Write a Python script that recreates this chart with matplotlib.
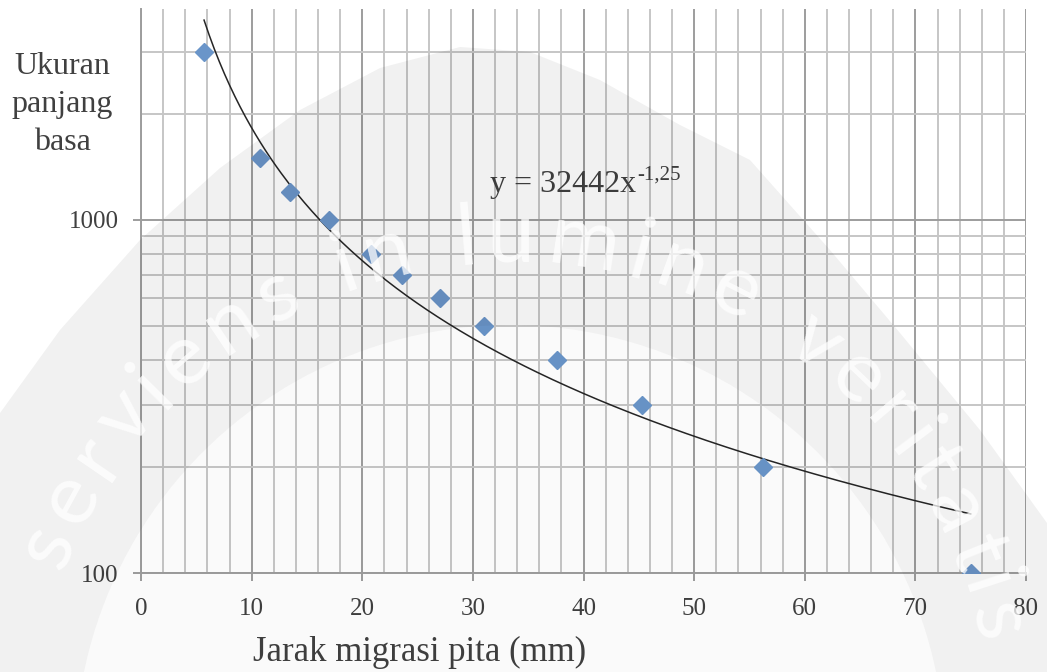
import numpy as np
import matplotlib
matplotlib.use('Agg')
import matplotlib.pyplot as plt
from matplotlib.ticker import MultipleLocator, LogLocator, FuncFormatter
from matplotlib.patches import PathPatch, Circle
from matplotlib.path import Path

plt.rcParams['font.family'] = ['Liberation Serif', 'DejaVu Serif']

# data: jarak migrasi pita (mm) vs ukuran panjang basa (bp)
jarak = [5.7, 10.8, 13.5, 17.0, 20.8, 23.6, 27.0, 31.0, 37.6, 45.3, 56.2, 75.0]
ukuran = [3000, 1500, 1200, 1000, 800, 700, 600, 500, 400, 300, 200, 100]

# trendline (power) y = a * x^b
koef_a = 32442
koef_b = -1.25

W, H = 1047, 672
fig = plt.figure(figsize=(W / 100, H / 100), dpi=100)
ax = fig.add_axes([141 / W, 1 - 573 / H, (1026 - 141) / W, (573 - 9) / H])
ax.set_facecolor('none')
ax.set_yscale('log')
ax.set_xlim(0, 80)
ax.set_ylim(100, 3960)

ax.xaxis.set_major_locator(MultipleLocator(10))
ax.xaxis.set_minor_locator(MultipleLocator(2))
ax.yaxis.set_major_locator(LogLocator(base=10))
ax.yaxis.set_minor_locator(LogLocator(base=10, subs=np.arange(2, 10)))
ax.yaxis.set_major_formatter(FuncFormatter(lambda v, p: f'{v:.0f}'))
ax.yaxis.set_minor_formatter(FuncFormatter(lambda v, p: ''))

ax.grid(which='major', color='#9d9d9d', lw=1.4)
ax.grid(which='minor', color='#c6c6c6', lw=1.4)
ax.set_axisbelow(True)

for s in ['top', 'right']:
    ax.spines[s].set_visible(False)
for s in ['left', 'bottom']:
    ax.spines[s].set_color('#9d9d9d')
    ax.spines[s].set_linewidth(1.4)

ax.tick_params(which='major', direction='out', length=6, width=1.4,
               color='#9d9d9d', labelcolor='#404040', labelsize=18)
ax.tick_params(axis='x', pad=12)
ax.tick_params(axis='y', pad=10)
ax.tick_params(which='minor', length=0)

# trendline
xs = np.linspace(min(jarak), max(jarak), 300)
ax.plot(xs, koef_a * xs ** koef_b, color='#262626', lw=1.1, zorder=3)

# titik data
ax.plot(jarak, ukuran, 'D', ms=9.5, color='#6a95c9', zorder=4)

# persamaan trendline
eq = ax.text((490 - 141) / 885, (573 - 192) / 564, 'y = 32442x',
             transform=ax.transAxes, fontsize=23, color='#404040',
             ha='left', va='baseline')
renderer = fig.canvas.get_renderer()
bb = eq.get_window_extent(renderer)
fig.text((bb.x1 + 1) / W, (H - 192 + 12) / H, '-1,25', fontsize=15,
         color='#404040', ha='left', va='baseline')

fig.text(62 / W, 1 - 52 / H, 'Ukuran\npanjang\nbasa', ha='center', va='top',
         fontsize=23, color='#404040', linespacing=1.42)
fig.text(420 / W, 1 - 661 / H, 'Jarak migrasi pita (mm)', ha='center',
         va='baseline', fontsize=25, color='#404040')

# watermark (logo samar di latar)
wm = fig.add_axes([0, 0, 1, 1], zorder=5)
wm.set_xlim(0, W)
wm.set_ylim(H, 0)
wm.axis('off')
wm.patch.set_alpha(0)

outer = np.array([(-20, 700), (-20, 440), (0, 413), (60, 330), (140, 240),
                  (220, 168), (300, 110), (380, 68), (460, 47), (530, 52),
                  (600, 80), (680, 125), (750, 160), (830, 250), (900, 333),
                  (980, 430), (1047, 523), (1070, 560), (1070, 700)])
t = np.linspace(0, 2 * np.pi, 200)
inner = np.column_stack([510 + 435 * np.cos(t), 760 + 435 * np.sin(t)])


def signed_area(p):
    return 0.5 * np.sum(p[:-1, 0] * p[1:, 1] - p[1:, 0] * p[:-1, 1])


if np.sign(signed_area(outer)) == np.sign(signed_area(inner)):
    inner = inner[::-1]
verts = np.vstack([outer, outer[:1], inner, inner[:1]])
codes = ([Path.MOVETO] + [Path.LINETO] * (len(outer) - 1) + [Path.CLOSEPOLY]
         + [Path.MOVETO] + [Path.LINETO] * (len(inner) - 1) + [Path.CLOSEPOLY])
wm.add_patch(PathPatch(Path(verts, codes), facecolor='black', edgecolor='none', alpha=0.055))
wm.add_patch(Circle((510, 760), 435, facecolor='black', edgecolor='none', alpha=0.018))

wm_text = 'serviens in lumine veritatis'
lebar = {'i': 0.3, 'l': 0.3, 't': 0.42, 'r': 0.45, 's': 0.52, ' ': 0.4,
         'm': 0.95, 'n': 0.65, 'u': 0.65, 'v': 0.6, 'e': 0.62, 'a': 0.62}
w = np.array([lebar.get(c, 0.6) for c in wm_text])
pos = (np.cumsum(w) - w / 2) / w.sum()
a0, a1 = 160.0, 11.0
cx, cy, r = 510, 740, 478
for c, p in zip(wm_text, pos):
    th = np.deg2rad(a0 - p * (a0 - a1))
    wm.text(cx + r * np.cos(th), cy - r * np.sin(th), c,
            rotation=np.rad2deg(th) - 90, rotation_mode='anchor',
            ha='center', va='baseline', fontsize=62, color='white', alpha=0.75,
            family=['Lato', 'DejaVu Sans'])

fig.savefig('out.png', dpi=100)
